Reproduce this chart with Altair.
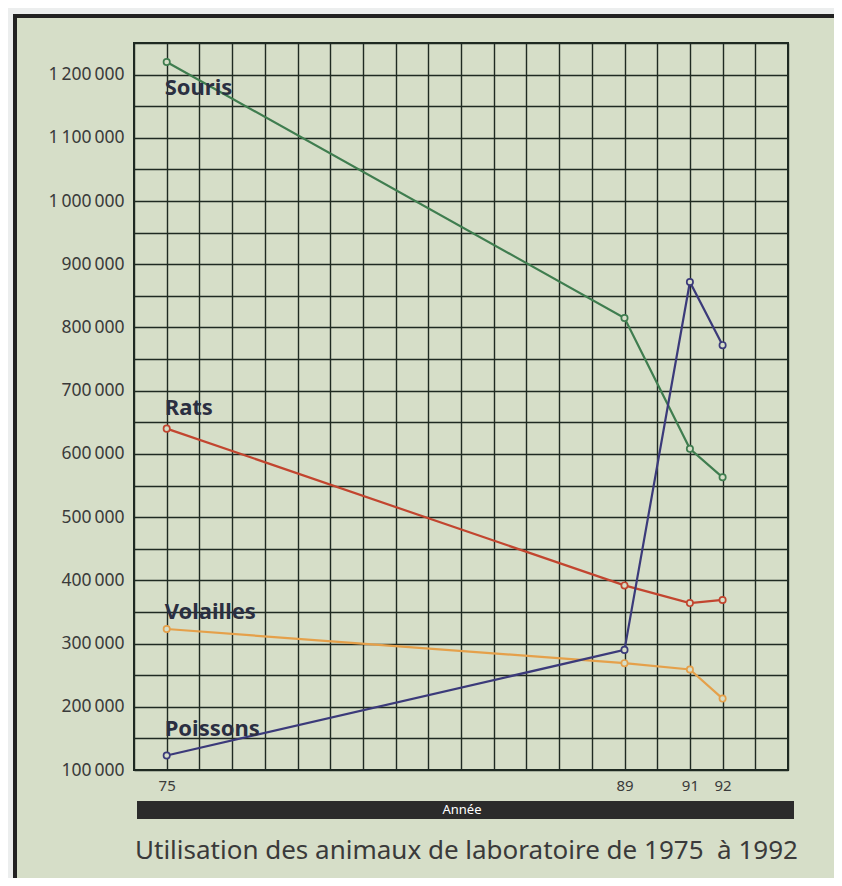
import altair as alt
import pandas as pd

years = [75, 89, 91, 92]
souris = [1220000, 815000, 608000, 563000]
rats = [640000, 392000, 364000, 369000]
volailles = [323000, 269000, 259000, 213000]
poissons = [123000, 290000, 872000, 772000]

series_names = ["Souris", "Rats", "Volailles", "Poissons"]
series_colors = ["#3f7d4f", "#c2452f", "#e5a04a", "#3b3a7a"]
label_dy = [26, -21, -17, -26]

x_ticks = list(range(74, 95))
x_labelled = [75, 89, 91, 92]
y_ticks = list(range(100000, 1250001, 50000))

BG = "#d6dec8"
GRID = "#1f2a22"
W, H = 654, 727

rows = []
for name, vals in zip(series_names, [souris, rats, volailles, poissons]):
    for yr, v in zip(years, vals):
        rows.append({"serie": name, "annee": yr, "valeur": v})
df = pd.DataFrame(rows)

labels_df = pd.DataFrame({
    "serie": series_names,
    "annee": [years[0]] * 4,
    "valeur": [souris[0], rats[0], volailles[0], poissons[0]],
})

xscale = alt.Scale(domain=[74, 94], nice=False, zero=False)
yscale = alt.Scale(domain=[100000, 1250000], nice=False, zero=False)
color = alt.Color("serie:N", scale=alt.Scale(domain=series_names, range=series_colors), legend=None)

xaxis = alt.Axis(values=x_ticks, tickCount=len(x_ticks) + 5, grid=True, gridColor=GRID,
                 gridWidth=1.4, gridOpacity=1, labelOverlap=False,
                 ticks=False, domain=False, title=None, labelFontSize=15, labelColor="#3a3a3a",
                 labelFont="Noto Sans", labelPadding=8,
                 labelExpr="indexof([75,89,91,92], datum.value) >= 0 ? datum.label : ''")
yaxis = alt.Axis(values=y_ticks, tickCount=len(y_ticks) + 5, grid=True, gridColor=GRID,
                 gridWidth=1.4, gridOpacity=1, labelOverlap=False,
                 ticks=False, domain=False, title=None, labelFontSize=17.5, labelColor="#3a3a3a",
                 labelFont="Noto Sans", labelPadding=10,
                 labelExpr="datum.value % 100000 == 0 ? replace(format(datum.value, ','), regexp(',', 'g'), '\u2009') : ''")

lines = alt.Chart(df).mark_line(
    strokeWidth=2.2,
    point=alt.OverlayMarkDef(filled=False, fill=BG, size=40, strokeWidth=1.7),
).encode(
    x=alt.X("annee:Q", scale=xscale, axis=xaxis),
    y=alt.Y("valeur:Q", scale=yscale, axis=yaxis),
    color=color,
    detail="serie:N",
)

def series_label(i):
    d = labels_df.iloc[[i]]
    return alt.Chart(d).mark_text(
        align="left", baseline="middle", dx=-2, dy=label_dy[i],
        font="Noto Sans", fontWeight="bold", fontSize=22, color="#2b2f42",
    ).encode(
        x=alt.X("annee:Q", scale=xscale),
        y=alt.Y("valeur:Q", scale=yscale),
        text="serie:N",
    )

one = alt.Data(values=[{"a": 1}])

# decorative frame around the figure
strip_top = alt.Chart(one).mark_rect(color="#eceeee").encode(
    x=alt.value(-126), x2=alt.value(720), y=alt.value(-35), y2=alt.value(-29))
strip_left = alt.Chart(one).mark_rect(color="#eceeee").encode(
    x=alt.value(-126), x2=alt.value(-121), y=alt.value(-35), y2=alt.value(850))
frame = alt.Chart(one).mark_rect(fill=None, stroke="#222222", strokeWidth=4).encode(
    x=alt.value(-119), x2=alt.value(730), y=alt.value(-27), y2=alt.value(841))

bar = alt.Chart(one).mark_rect(color="#2b2b2b").encode(
    x=alt.value(3), x2=alt.value(660), y=alt.value(758), y2=alt.value(776))
bar_text = alt.Chart(one).mark_text(
    color="white", fontSize=13, font="Noto Sans", align="center", baseline="middle"
).encode(x=alt.value(328), y=alt.value(767), text=alt.value("Année"))
title = alt.Chart(one).mark_text(
    color="#3a3a3a", fontSize=26, font="Noto Sans", align="left", baseline="alphabetic"
).encode(x=alt.value(1), y=alt.value(816),
         text=alt.value("Utilisation des animaux de laboratoire de 1975\u00a0 à 1992"))

chart = alt.layer(
    strip_top, strip_left, frame, lines,
    series_label(0), series_label(1), series_label(2), series_label(3),
    bar, bar_text, title,
).properties(
    width=W, height=H,
    autosize=alt.AutoSizeParams(type="none"),
    padding={"left": 126, "top": 35, "right": 46, "bottom": 108},
    background=BG,
).configure_view(
    stroke=GRID, strokeWidth=2,
)

chart.save("out.html", embed_options={"renderer": "svg", "actions": False})
